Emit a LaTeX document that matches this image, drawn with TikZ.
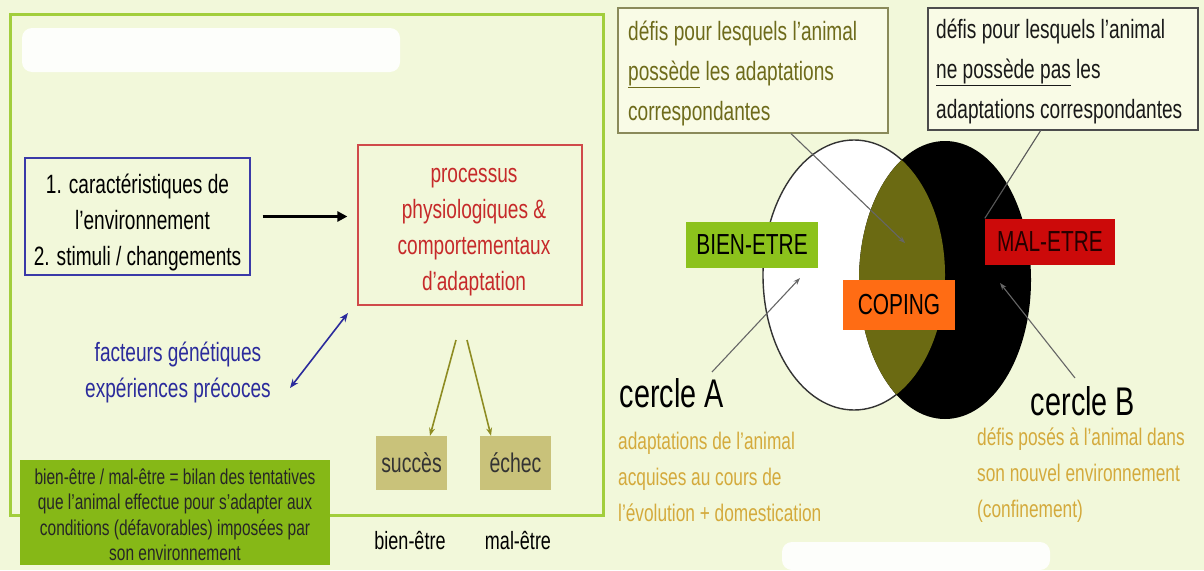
\documentclass[tikz,border=0pt]{standalone}
\usepackage{fontspec}
\setmainfont{Liberation Sans}[FakeStretch=0.72]
\usetikzlibrary{arrows.meta}

\definecolor{bgpale}{HTML}{F2F8DA}
\definecolor{framegreen}{HTML}{A2CE3C}
\definecolor{boxblue}{HTML}{3A3AA8}
\definecolor{txtblue}{HTML}{2B2B9C}
\definecolor{boxred}{HTML}{D04A4A}
\definecolor{txtred}{HTML}{C62A2A}
\definecolor{olivearrow}{HTML}{8E8C22}
\definecolor{khaki}{HTML}{C9C27A}
\definecolor{notegreen}{HTML}{86B817}
\definecolor{labelgreen}{HTML}{8CC21C}
\definecolor{labelred}{HTML}{CC0A0A}
\definecolor{labelorange}{HTML}{FF6C14}
\definecolor{lens}{HTML}{6B6A12}
\definecolor{olivetext}{HTML}{6E6B1B}
\definecolor{goldtext}{HTML}{D4AA3C}
\definecolor{calloutedge}{HTML}{8A8A5A}
\definecolor{calloutfill}{HTML}{F9FBE6}

\tikzset{
  txt/.style={inner sep=0pt, align=center},
  bigtxt/.style={txt, font=\fontsize{26.5}{36}\selectfont},
  tag/.style={minimum height=46pt, inner sep=0pt, font=\fontsize{29}{32}\selectfont},
  outcome/.style={fill=khaki, minimum width=71pt, minimum height=54pt, inner sep=0pt,
    font=\fontsize{27}{30}\selectfont, text=black!80},
  callout/.style={draw, fill=calloutfill, line width=1.2pt, inner sep=0pt},
  pointer/.style={draw=black!60, line width=1.1pt, -{Stealth[length=7pt,width=5pt]}},
}

\begin{document}
\begin{tikzpicture}[x=1pt, y=-1pt]
  % canvas
  \fill[bgpale] (0,0) rectangle (1204,570);
  \useasboundingbox (0,0) rectangle (1204,570);

  % ---------------- left panel ----------------
  \draw[framegreen, line width=3pt] (10,14) rectangle (603,515);
  \fill[white, rounded corners=10pt, opacity=0.9] (22,28) rectangle (400,72);

  \node[draw=boxblue, line width=1.2pt, minimum width=225pt, minimum height=117pt, inner sep=0pt]
    (env) at (137.5,216.5) {};
  \node[bigtxt] (envtxt) at (137.5,222) {1. caractéristiques de\\\hspace*{10pt}l'environnement\\2. stimuli / changements};

  \node[draw=boxred, line width=1.2pt, minimum width=224pt, minimum height=160pt, inner sep=0pt]
    (proc) at (470,225) {};
  \node[bigtxt, text=txtred] (proctxt) at (474,232) {processus\\physiologiques \&\\comportementaux\\d'adaptation};

  \draw[line width=3pt, -{Triangle[length=10pt,width=10pt]}, shorten <=12pt, shorten >=10pt]
    (env.east) -- (env.east -| proc.west);

  \node[bigtxt, text=txtblue] (genes) at (178,372) {facteurs génétiques\\expériences précoces};
  \coordinate (g1) at (290,388);
  \coordinate (g2) at (348,313);
  \draw[txtblue, line width=1.6pt, {Stealth[length=9pt,width=7pt]}-{Stealth[length=9pt,width=7pt]}] (g1) -- (g2);

  \node[outcome] (ok) at (411.5,463) {succès};
  \node[outcome] (ko) at (515.5,463) {échec};
  \coordinate (o1) at (456,340);
  \coordinate (o2) at (467,340);
  \draw[olivearrow, line width=1.6pt, -{Stealth[length=8pt,width=6pt]}] (o1) -- (ok.north -| 430,0) ;
  \draw[olivearrow, line width=1.6pt, -{Stealth[length=8pt,width=6pt]}] (o2) -- (ko.north -| 491,0);

  \node[txt, font=\fontsize{25}{30}\selectfont] (bien) at (410,541) {bien-être};
  \node[txt, font=\fontsize{25}{30}\selectfont] (mal) at (518,541) {mal-être};

  \node[fill=notegreen, minimum width=310pt, minimum height=105pt, inner sep=0pt] (note) at (175,512.5) {};
  \node[txt, font=\fontsize{21.5}{25.5}\selectfont, text=black!85] (notetxt) at (175,515)
    {bien-être / mal-être = bilan des tentatives\\que l'animal effectue pour s'adapter aux\\conditions (défavorables) imposées par\\son environnement};

  % ---------------- right panel ----------------
  \node[callout, draw=calloutedge, minimum width=270pt, minimum height=125pt] (has) at (753,70.5) {};
  \node[txt, align=left, anchor=west, text=olivetext, font=\fontsize{26.5}{40}\selectfont] (hastxt) at (628,73)
    {défis pour lesquels l'animal\\\underline{possède} les adaptations\\correspondantes};

  \node[callout, draw=black!70, minimum width=270pt, minimum height=122pt] (lacks) at (1063,69) {};
  \node[txt, align=left, anchor=west, text=black!90, font=\fontsize{26.5}{40}\selectfont] (lackstxt) at (936,71)
    {défis pour lesquels l'animal\\\underline{ne possède pas} les\\adaptations correspondantes};

  % the two circles and their overlap
  \def\circA{(854,275) ellipse [x radius=91, y radius=135]}
  \def\circB{(945,280) ellipse [x radius=86, y radius=139]}
  \filldraw[fill=white, draw=black!80, line width=1.4pt] \circA;
  \fill[black] \circB;
  \begin{scope}
    \clip \circA;
    \fill[lens] \circB;
  \end{scope}
  \coordinate (lensmid) at (905,243);
  \coordinate (aspot) at (800,278);
  \coordinate (bspot) at (1000,283);

  \node[tag, fill=labelgreen, minimum width=132pt] (well) at (752,245) {BIEN-ETRE};
  \node[tag, fill=labelred, minimum width=130pt, text=black!85!red] (ill) at (1050,241.5) {MAL-ETRE};
  \node[tag, fill=labelorange, minimum width=112pt, minimum height=50pt] (coping) at (899,305) {COPING};

  \draw[pointer] (has.south) ++(38,0) coordinate (hasfoot) (hasfoot) -- (lensmid);
  \coordinate (lacksfoot) at (1041,130);
  \draw[black!65, line width=1.1pt] (lacksfoot) -- (ill.north west) ++(5,0);

  \node[txt, font=\fontsize{40}{44}\selectfont] (cA) at (672,393) {cercle A};
  \node[txt, font=\fontsize{40}{44}\selectfont] (cB) at (1083,401) {cercle B};
  \coordinate (cAtip) at (712,372);
  \coordinate (cBtip) at (1075,378);
  \draw[pointer] (cAtip) -- (aspot);
  \draw[pointer, -{Stealth[length=7pt,width=5pt,fill=white]}] (cBtip) -- (bspot);

  \node[txt, align=left, anchor=west, text=goldtext, font=\fontsize{24}{36}\selectfont] (adapt) at (618,477)
    {adaptations de l'animal\\acquises au cours de\\l'évolution + domestication};
  \node[txt, align=left, anchor=west, text=goldtext, font=\fontsize{24}{36}\selectfont] (defis) at (977,475)
    {défis posés à l'animal dans\\son nouvel environnement\\(confinement)};

  \fill[white, rounded corners=10pt, opacity=0.9] (782,542) rectangle (1050,570);
\end{tikzpicture}
\end{document}
